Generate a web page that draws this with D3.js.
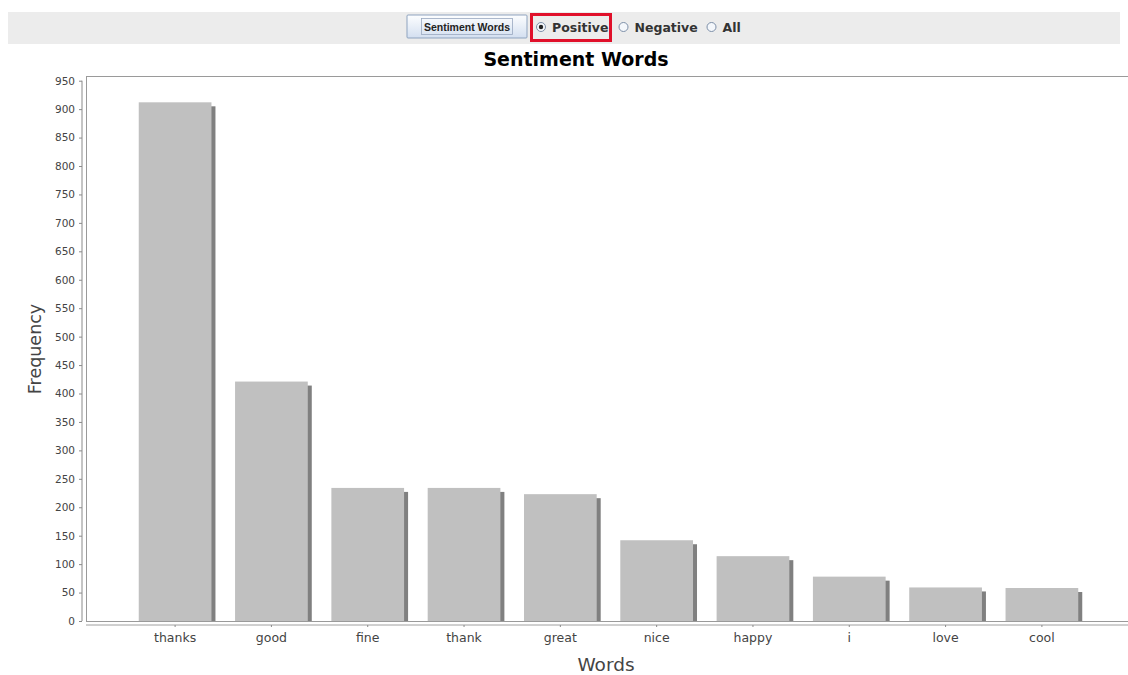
<!DOCTYPE html>
<html>
<head>
<meta charset="utf-8">
<script src="https://cdn.jsdelivr.net/npm/d3@7"></script>
<style>
  html, body { margin: 0; padding: 0; background: #fff; }
  svg { display: block; }
</style>
</head>
<body>
<svg id="chart" width="1128" height="675"></svg>
<script>
// Word frequencies for the positive sentiment words
const words = ["thanks", "good", "fine", "thank", "great", "nice", "happy", "i", "love", "cool"];
const frequencies = [912, 421, 234, 234, 223, 142, 114, 78, 59, 58];
const yTicks = d3.range(0, 951, 50);
const filterOptions = ["Positive", "Negative", "All"];

const svg = d3.select("#chart");
const font = "'Liberation Sans', Arial, sans-serif";
const wide = "'DejaVu Sans', 'Liberation Sans', sans-serif";

// Toolbar strip with button and radio selectors
svg.append("rect").attr("x", 8).attr("y", 12).attr("width", 1112).attr("height", 32).attr("fill", "#ececec");

const grad = svg.append("defs").append("linearGradient").attr("id", "btnGrad")
  .attr("x1", 0).attr("y1", 0).attr("x2", 0).attr("y2", 1);
grad.append("stop").attr("offset", "0%").attr("stop-color", "#fdfeff");
grad.append("stop").attr("offset", "100%").attr("stop-color", "#d3dff0");

svg.append("rect").attr("x", 407).attr("y", 15).attr("width", 120).attr("height", 23)
  .attr("fill", "url(#btnGrad)").attr("stroke", "#8ea3bf").attr("stroke-width", 1).attr("rx", 1);
svg.append("rect").attr("x", 421.5).attr("y", 18.5).attr("width", 91).attr("height", 16)
  .attr("fill", "none").attr("stroke", "#9aa9c0").attr("stroke-width", 0.8);
svg.append("text").attr("x", 467).attr("y", 30.5).attr("text-anchor", "middle")
  .attr("font-family", font).attr("font-weight", "bold").attr("font-size", 10.5).attr("fill", "#222")
  .text("Sentiment Words");

// Selected option highlight
svg.append("rect").attr("x", 531.5).attr("y", 14.5).attr("width", 79).attr("height", 26)
  .attr("fill", "none").attr("stroke", "#e0102a").attr("stroke-width", 3);

const optX = [541, 623.5, 711.5];
filterOptions.forEach((opt, i) => {
  const g = svg.append("g");
  g.append("circle").attr("cx", optX[i]).attr("cy", 27).attr("r", 4.5)
    .attr("fill", "#f4f7fb").attr("stroke", "#7d8fa8").attr("stroke-width", 1);
  if (i === 0) g.append("circle").attr("cx", optX[i]).attr("cy", 27).attr("r", 2.2).attr("fill", "#222");
  g.append("text").attr("x", optX[i] + 11).attr("y", 32).attr("font-family", wide)
    .attr("font-weight", "bold").attr("font-size", 12.5).attr("fill", "#333").text(opt);
});

// Chart title
svg.append("text").attr("x", 576).attr("y", 66).attr("text-anchor", "middle")
  .attr("font-family", wide).attr("font-weight", "bold").attr("font-size", 19)
  .attr("fill", "#000").text("Sentiment Words");

// Plot area
const plot = { left: 86, top: 76, right: 1132, bottom: 621 };

const x = d3.scaleBand().domain(words).range([127, 1090]).paddingInner(0.245).paddingOuter(0.122);
const y = d3.scaleLinear().domain([0, 950]).range([plot.bottom, 80.7]);

svg.append("rect").attr("x", plot.left + 0.5).attr("y", plot.top + 0.5)
  .attr("width", plot.right - plot.left).attr("height", plot.bottom - plot.top)
  .attr("fill", "#fff").attr("stroke", "#9a9a9a").attr("stroke-width", 1);

// Bar shadows
svg.append("g").selectAll("rect").data(words).join("rect")
  .attr("x", d => x(d) + 4)
  .attr("y", (d, i) => y(frequencies[i]) + 4)
  .attr("width", x.bandwidth())
  .attr("height", (d, i) => Math.max(0, plot.bottom - y(frequencies[i]) - 4))
  .attr("fill", "#808080");

// Bars
svg.append("g").selectAll("rect").data(words).join("rect")
  .attr("x", d => x(d))
  .attr("y", (d, i) => y(frequencies[i]))
  .attr("width", x.bandwidth())
  .attr("height", (d, i) => plot.bottom - y(frequencies[i]))
  .attr("fill", "#c0c0c0");

// Y axis
const yAxis = svg.append("g").attr("transform", "translate(82,0)")
  .call(d3.axisLeft(y).tickValues(yTicks).tickSize(3).tickPadding(4));
yAxis.select(".domain").attr("stroke", "#8a8a8a").attr("d", `M0,${y(950)}V${plot.bottom}`);
yAxis.selectAll(".tick line").attr("stroke", "#8a8a8a");
yAxis.selectAll(".tick text").attr("font-family", wide).attr("font-size", 10.5).attr("fill", "#444");

// X axis
const xAxis = svg.append("g").attr("transform", "translate(0,625)")
  .call(d3.axisBottom(x).tickSize(2).tickPadding(6));
xAxis.select(".domain").attr("stroke", "#a0a0a0").attr("d", `M${plot.left},0H${plot.right}`);
xAxis.selectAll(".tick line").attr("stroke", "#8a8a8a");
xAxis.selectAll(".tick text").attr("font-family", wide).attr("font-size", 12.5).attr("fill", "#444");

// Axis titles
svg.append("text").attr("x", 606).attr("y", 671).attr("text-anchor", "middle")
  .attr("font-family", wide).attr("font-size", 18.5).attr("fill", "#444").text("Words");
svg.append("text").attr("transform", "translate(41,349) rotate(-90)").attr("text-anchor", "middle")
  .attr("font-family", wide).attr("font-size", 17.5).attr("fill", "#444").text("Frequency");
</script>
</body>
</html>
